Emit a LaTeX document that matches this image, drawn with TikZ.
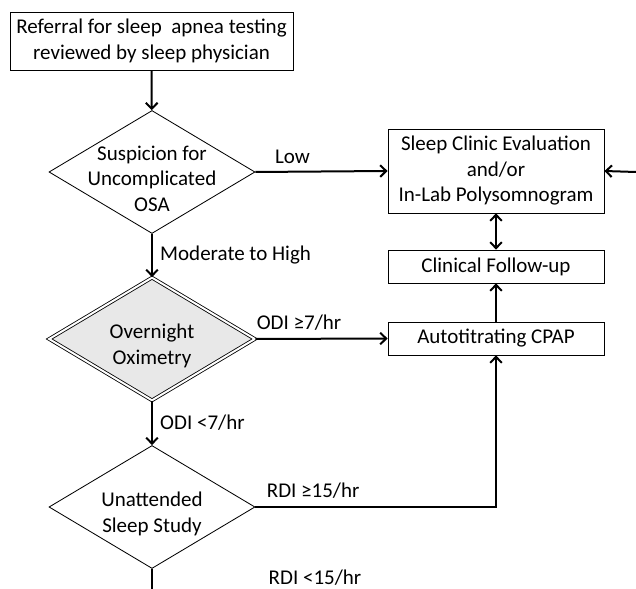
\documentclass[tikz,border=0pt]{standalone}
\usepackage{fontspec}
\setmainfont{Carlito}
\usetikzlibrary{shapes.geometric,arrows.meta}

\begin{document}
\begin{tikzpicture}[x=0.6pt,y=-0.6pt,
        font=\fontsize{12.6}{15.3}\selectfont,
        >={Straight Barb[length=3.6pt,width=7pt]},
        box/.style={draw, line width=0.5pt, align=center, inner sep=2pt},
        dia/.style={draw, diamond, line width=0.5pt, minimum width=123.6pt,
            minimum height=73.8pt, inner sep=0pt},
        txt/.style={align=center, yshift=-4pt},
        con/.style={line width=1.2pt}]
    \useasboundingbox (0,0) rectangle (636,589);
    % Riquadri
    \node[box, minimum width=169.8pt, minimum height=34.8pt] (ref) at (151.5,41)
        {Referral for sleep\ \ apnea testing\\reviewed by sleep physician};
    \node[box, minimum width=129.6pt, minimum height=50.4pt] (clinic) at (496,171)
        {Sleep Clinic Evaluation\\and/or\\In-Lab Polysomnogram};
    \foreach \nm/\yy/\lbl in {
            follow/266.5/Clinical Follow-up,
            cpap/338.5/Autotitrating CPAP}
        {
            \node[box, minimum width=129.6pt, minimum height=19.8pt] (\nm) at (496,\yy) {\lbl};
        }
    % Decisioni
    \node[dia, label={[txt]center:Suspicion for\\Uncomplicated\\OSA}] (susp) at (152,172) {};
    \node[dia, fill=gray!18, double, double distance=1.2pt,
        label={[txt]center:Overnight\\Oximetry}] (oxi) at (152,339) {};
    \node[dia, label={[txt]center:Unattended\\Sleep Study}] (study) at (152,507) {};
    \coordinate (inright) at (636,172);
    \coordinate (cut) at (152,589);
    % Frecce
    \draw[con,->] (ref) -- (susp);
    \draw[con,->] (susp.east) -- (clinic.west) node[pos=0.28, above=1pt]{Low};
    \draw[con,->] (susp) -- (oxi) node[midway, right=1pt]{Moderate to High};
    \draw[con,->] (inright) -- (clinic.east);
    \draw[con,<->] (clinic) -- (follow);
    \draw[con,->] (cpap) -- (follow);
    \draw[con,->] (oxi.east) -- (cpap.west) node[pos=0.33, above=1pt]{ODI ≥7/hr};
    \draw[con,->] (oxi) -- (study) node[midway, right=1pt]{ODI <7/hr};
    \draw[con,->] (study.east) -| (cpap.south) node[pos=0.12, above=1pt]{RDI ≥15/hr};
    \draw[con] (study) -- (cut);
    \node (rdilow) at (315,578) {RDI <15/hr};
\end{tikzpicture}
\end{document}
